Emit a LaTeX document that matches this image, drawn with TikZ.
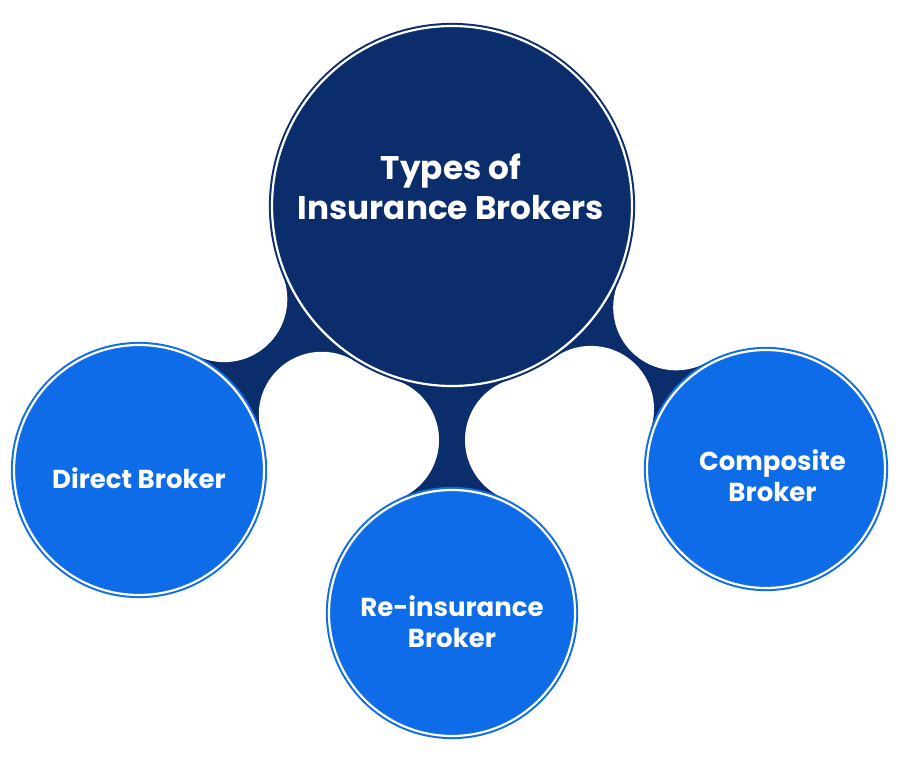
\documentclass[tikz,border=0pt]{standalone}
\usepackage{fontspec}
\setmainfont{Poppins}
\definecolor{navy}{RGB}{12,45,107}
\definecolor{bblue}{RGB}{14,108,232}
\tikzset{
  hub/.style={circle, inner sep=0pt, fill=navy, draw=navy, line width=2pt, double=white, double distance=2.2pt},
  leaf/.style={circle, inner sep=0pt, fill=bblue, draw=bblue, line width=2pt, double=white, double distance=2.2pt},
  bite/.style={fill=white},
  link/.style={fill=navy},
  bigtext/.style={text=white, align=center, font=\bfseries\fontsize{32.7}{40}\selectfont},
  smalltext/.style={text=white, align=center, font=\bfseries\fontsize{26}{31}\selectfont},
}
\begin{document}
\begin{tikzpicture}[x=1pt, y=-1pt]
\useasboundingbox (0,0) rectangle (900,776);
% centres
\coordinate (cM) at (452,206);
\coordinate (cD) at (139,470);
\coordinate (cR) at (452,613);
\coordinate (cC) at (766,469);
% bite centres
\coordinate (bL1) at (224.3,299.1);
\coordinate (bL2) at (321.8,414.8);
\coordinate (bM1) at (376.0,440.0);
\coordinate (bM2) at (528.0,440.0);
\coordinate (bR1) at (676.2,307.3);
\coordinate (bR2) at (591.0,408.9);
% connectors
\fill[link] (cM) -- (bL1) -- (cD) -- (bL2) -- cycle;
\fill[link] (cM) -- (bM1) -- (cR) -- (bM2) -- cycle;
\fill[link] (cM) -- (bR1) -- (cC) -- (bR2) -- cycle;
\foreach \b in {bL1,bL2,bM1,bM2,bR1,bR2} \fill[bite] (\b) circle[radius=63pt];
% circles
\node[hub, minimum size=360pt] (M) at (cM) {};
\node[leaf, minimum size=250pt] (D) at (cD) {};
\node[leaf, minimum size=246pt] (R) at (cR) {};
\node[leaf, minimum size=238pt] (C) at (cC) {};
% texts
\node[bigtext] (tM) at (451,187) {Types of\\Insurance Brokers};
\node[smalltext] (tD) at (139,478) {Direct Broker};
\node[smalltext] (tR) at (452,622) {Re-insurance\\Broker};
\node[smalltext] (tC) at (772.5,475.5) {Composite\\Broker};
\end{tikzpicture}
\end{document}
